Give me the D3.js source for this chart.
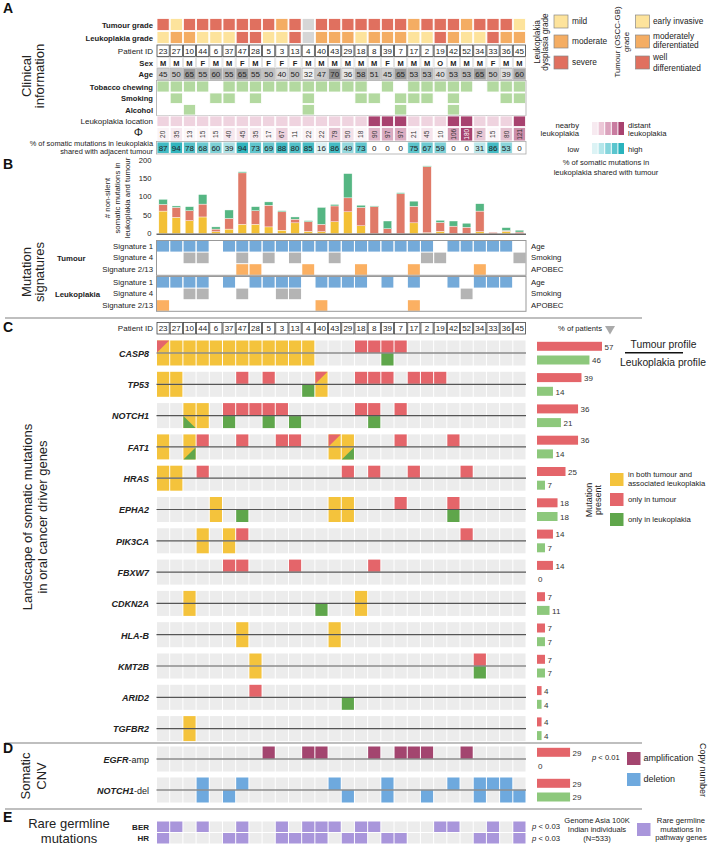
<!DOCTYPE html>
<html>
<head>
<meta charset="utf-8">
<script src="https://cdn.jsdelivr.net/npm/d3@7"></script>
<style>
    body { margin: 0; background: #fff; }
    svg { font-family: "Liberation Sans", Arial, sans-serif; }
</style>
</head>
<body>
<svg id="fig" width="709" height="858"></svg>
<script>
// ---------------- data ----------------
var patients = ["23","27","10","44","6","37","47","28","5","3","13","4","40","43","29","18","8","39","7","17","2","19","42","52","34","33","36","45"];

// grade codes: 0 = n/a, 1 = mild / early invasive, 2 = moderate, 3 = severe / well differentiated
var tumourGrade = [3,1,3,3,3,3,3,3,3,2,3,0,3,3,3,3,3,3,3,2,3,3,3,2,3,3,3,1];
var leukGrade   = [1,2,2,1,1,1,3,3,1,1,3,0,2,2,2,1,2,2,2,1,1,3,2,1,1,3,2,2];
var sex = ["M","M","M","F","M","M","F","M","F","F","F","M","M","M","M","M","M","F","M","M","M","O","M","M","M","F","M","M"];
var age = [45,50,65,55,60,55,65,55,50,40,50,32,47,70,36,58,51,45,65,53,53,40,53,53,65,50,39,60];
var tobacco = [1,1,1,1,0,1,1,1,1,1,1,1,1,1,1,1,0,1,0,1,1,1,1,1,0,1,1,1];
var smoking = [0,1,0,0,1,1,0,1,0,0,0,1,0,0,0,1,1,0,1,1,1,0,1,0,0,0,1,1];
var alcohol = [0,0,1,0,0,0,0,0,0,0,0,1,0,0,0,0,0,0,1,0,0,0,1,0,0,0,0,0];
var phi = [20,35,13,15,15,40,45,35,17,67,11,22,22,79,50,18,90,97,97,21,45,10,106,180,76,15,80,121];
var sharedPct = [87,94,78,68,60,39,94,73,69,88,80,85,16,86,49,73,0,0,0,75,67,59,0,0,31,86,53,0];

// non-silent somatic mutations (panel B)
var mutShared = [61,44,35,45,5,12,25,25,18,9,29,6,5,32,59,21,0,0,0,29,2,6,0,0,5,0,6,0];
var mutTumour = [18,27,27,35,7,29,140,37,59,50,10,26,20,43,38,50,73,13,108,45,180,24,20,17,56,3,2,4];
var mutLeuk   = [14,4,11,26,6,23,3,11,9,3,6,3,46,4,66,6,2,21,3,14,2,6,14,11,20,0,8,5];
var barTicks = [0,50,100,150,200];

// mutation signatures
var sigNames = ["Signature 1","Signature 4","Signature 2/13"];
var sigLabels = ["Age","Smoking","APOBEC"];
var sigTumour = [
    [1,1,1,1,0,1,1,1,1,1,1,1,1,1,1,1,1,1,1,1,1,0,1,1,1,1,1,0],
    [0,0,1,1,0,0,1,0,1,0,1,0,0,1,0,0,0,0,0,0,1,1,0,0,0,0,0,1],
    [0,0,0,0,0,0,1,1,0,0,0,1,0,0,0,1,0,0,0,1,0,0,0,0,1,0,0,0]
];
var sigLeuk = [
    [1,1,1,1,0,1,0,1,1,1,1,0,1,1,1,1,0,1,0,1,0,0,1,0,1,1,1,0],
    [0,0,1,1,0,0,1,0,0,1,1,0,0,0,0,0,0,0,0,0,0,0,0,1,0,0,0,0],
    [1,0,0,0,0,0,0,0,0,0,0,0,1,0,0,0,0,0,0,1,0,0,0,0,0,0,0,0]
];

// driver genes: Y both, R tumour only, G leukoplakia only,
// A red/yellow split, B yellow/green split, C green/yellow split
var genes = ["CASP8","TP53","NOTCH1","FAT1","HRAS","EPHA2","PIK3CA","FBXW7","CDKN2A","HLA-B","KMT2B","ARID2","TGFBR2"];
var geneTumour = [
    "AYYYYYYYYYYY...RRRR.........",
    "YY....R.R...A..RRR.RRR......",
    "..YY.RRRRR.....RR.R.........",
    "Y.YR..R..RR..AY...R...R.....",
    "YY.R..........R.R..R...R....",
    "....Y........YY...R...R.....",
    "...Y.YR................R....",
    ".....RR...R.....R...........",
    "..Y............Y............",
    "......Y......Y..............",
    ".......Y................R...",
    ".......R....................",
    "..Y........................."
];
var geneLeuk = [
    "YYYYYYYYYYYY.....G..........",
    "YY.........GY...............",
    "..CY.G..G.G.....G...........",
    "Y.B..........YB.............",
    "YY..........................",
    "....Y.G......YY.......G.....",
    "...Y.Y......................",
    "............................",
    "..Y.........G..Y............",
    "......Y......Y..............",
    ".......Y................G...",
    "..............G.............",
    "..Y........................."
];
var pctTumour = [57,39,36,36,25,18,14,14,7,7,7,4,4];
var pctLeuk   = [46,14,21,14,7,18,7,0,11,7,7,4,4];

// somatic CNV (M amplification, D deletion)
var cnvNames = ["EGFR","NOTCH1"];
var cnvSuffix = ["-amp","-del"];
var cnvTumour = ["........M..MM...M.MMM..M....", "...D..D......D...D....D.DDD."];
var cnvLeuk   = ["............................", "...D.D........D..D..D...D.DD"];
var cnvPctTumour = [29,29];
var cnvPctLeuk = [0,29];

// rare germline mutations
var germNames = ["BER","HR"];
var germBER = [0,1,3,6,9,11,12,13,15,16,21,22,25,27];
var germHR  = [0,5,6,9,10,11,12,14,15,17,18,24,25,27];
var germP = ["0.03","0.03"];

// ---------------- colours ----------------
var gradeColor = {0: "#d6d6d6", 1: "#fde39c", 2: "#f4ad63", 3: "#e0705f"};
var mutColor = {Y: "#f4c33c", R: "#e4656a", G: "#5fa64b", M: "#a3456f", D: "#6ea9de"};
var clinGreen = "#b3d9a0";
var bgGrey = "#ececec";

var svg = d3.select("#fig");
var x = d3.scaleBand().domain(d3.range(patients.length)).range([156.5, 526]);
var cw = x.bandwidth();
var labelX = 153;

function label(txt, xx, y, opts) {
    opts = opts || {};
    return svg.append("text")
        .attr("x", xx).attr("y", y)
        .attr("text-anchor", opts.anchor || "end")
        .attr("font-size", opts.size || 7.8)
        .attr("font-weight", opts.bold ? "bold" : "normal")
        .attr("font-style", opts.italic ? "italic" : "normal")
        .attr("fill", opts.fill || "#222")
        .text(txt);
}

function vLabel(lines, cx, cy, size, gap, rot) {
    rot = rot || -90;
    var g = svg.append("g").attr("transform", "translate(" + cx + "," + cy + ") rotate(" + rot + ")");
    lines.forEach(function (t, i) {
        g.append("text").attr("x", 0).attr("y", (i - (lines.length - 1) / 2) * gap + size * 0.35)
            .attr("text-anchor", "middle").attr("font-size", size).attr("fill", "#222").text(t);
    });
}

function cellRow(y, h, fillFn, stroke) {
    svg.append("g").selectAll("rect").data(patients).enter().append("rect")
        .attr("x", function (d, i) { return x(i) + 0.5; })
        .attr("y", y + 0.5)
        .attr("width", cw - 1).attr("height", h - 1)
        .attr("fill", function (d, i) { return fillFn(i); })
        .attr("stroke", stroke || "none").attr("stroke-width", 0.8);
}

function textRow(y, vals, opts) {
    opts = opts || {};
    svg.append("g").selectAll("text").data(vals).enter().append("text")
        .attr("x", function (d, i) { return x(i) + cw / 2; })
        .attr("y", y)
        .attr("text-anchor", "middle")
        .attr("font-size", opts.size || 8)
        .attr("font-weight", opts.bold ? "bold" : "normal")
        .attr("fill", "#222")
        .text(function (d) { return d; });
}

function panelLetter(t, y) {
    label(t, 3, y, {anchor: "start", size: 14, bold: true, fill: "#111"});
}

// ---------------- panel A : clinical information ----------------
panelLetter("A", 13);
vLabel(["Clinical", "information"], 33, 76, 13, 13.5);

cellRow(18, 13, function (i) { return gradeColor[tumourGrade[i]]; }, "#fff");
cellRow(31, 13, function (i) { return gradeColor[leukGrade[i]]; }, "#fff");
label("Tumour grade", labelX, 27.5, {bold: true, size: 7.7});
label("Leukoplakia grade", labelX, 40.5, {bold: true, size: 7.7});

cellRow(44.5, 12.5, function () { return "#fff"; }, "#444");
textRow(53.8, patients, {size: 8});
label("Patient ID", labelX, 53.8, {size: 8});

cellRow(57, 11, function () { return "#fff"; }, "#ddd");
textRow(65.5, sex, {size: 7.5, bold: true});
label("Sex", labelX, 65.5, {bold: true, size: 7.7});

var ageColor = d3.scaleLinear().domain([30, 70]).range(["#f6f6f6", "#8c8c8c"]);
cellRow(68, 12, function (i) { return ageColor(age[i]); }, "#bbb");
textRow(77, age, {size: 8});
label("Age", labelX, 77, {bold: true, size: 7.7});

cellRow(80.5, 12, function (i) { return tobacco[i] ? clinGreen : "#fff"; }, "#fff");
cellRow(92.5, 11.5, function (i) { return smoking[i] ? clinGreen : "#fff"; }, "#fff");
cellRow(104, 11.5, function (i) { return alcohol[i] ? clinGreen : "#fff"; }, "#fff");
svg.append("rect").attr("x", 156.5).attr("y", 80.5).attr("width", 526 - 156.5).attr("height", 35)
    .attr("fill", "none").attr("stroke", "#aaa").attr("stroke-width", 0.8);
label("Tobacco chewing", labelX, 89.5, {bold: true, size: 7.6});
label("Smoking", labelX, 101, {bold: true, size: 7.6});
label("Alcohol", labelX, 112.5, {bold: true, size: 7.6});

cellRow(115.5, 11.5, function (i) { return phi[i] >= 90 ? "#a8426f" : "#efd3df"; }, "#fff");
label("Leukoplakia location", labelX, 124, {size: 8});

var phiColor = d3.scaleLinear().domain([0, 60, 180]).range(["#ffffff", "#f1dbe5", "#a8426f"]);
cellRow(127, 14.5, function (i) { return phiColor(phi[i]); }, "#fff");
svg.append("g").selectAll("text").data(phi).enter().append("text")
    .attr("transform", function (d, i) { return "translate(" + (x(i) + cw / 2 + 2.3) + ",134.3) rotate(-90)"; })
    .attr("text-anchor", "middle").attr("font-size", 6.5)
    .attr("fill", function (d) { return d > 150 ? "#fff" : "#333"; })
    .text(function (d) { return d; });
label("\u03A6", 143, 136, {size: 11.5});

var tealColor = d3.scaleLinear().domain([0, 100]).range(["#ffffff", "#25b0ba"]);
cellRow(141.5, 12.5, function (i) { return tealColor(sharedPct[i]); }, "#fff");
svg.append("rect").attr("x", 156.5).attr("y", 141.5).attr("width", 526 - 156.5).attr("height", 12.5)
    .attr("fill", "none").attr("stroke", "#aaa").attr("stroke-width", 0.8);
textRow(150.8, sharedPct, {size: 8});
label("% of somatic mutations in leukoplakia", labelX, 145.6, {size: 7.4});
label("shared with adjacent tumour", labelX, 154.4, {size: 7.4});

// grade legends
vLabel(["Leukoplakia", "dysplasia grade"], 541, 42, 8.2, 8.5);
vLabel(["Tumour (OSCC-GB)", "grade"], 622, 42, 7.9, 9);
var gradeLegend = [1, 2, 3];
var lgY = [15, 35, 56];
gradeLegend.forEach(function (g, i) {
    svg.append("rect").attr("x", 554).attr("y", lgY[i]).attr("width", 14).attr("height", 13)
        .attr("fill", gradeColor[g]).attr("stroke", "#888").attr("stroke-width", 0.7);
    svg.append("rect").attr("x", 635.5).attr("y", lgY[i]).attr("width", 14).attr("height", 13)
        .attr("fill", gradeColor[g]).attr("stroke", "#888").attr("stroke-width", 0.7);
});
label("mild", 572, 24, {anchor: "start", size: 8.3});
label("moderate", 572, 44, {anchor: "start", size: 8.3});
label("severe", 572, 65, {anchor: "start", size: 8.3});
label("early invasive", 653, 24, {anchor: "start", size: 8.3});
label("moderately", 653, 39, {anchor: "start", size: 8.3});
label("diferentiated", 653, 48, {anchor: "start", size: 8.3});
label("well", 653, 60, {anchor: "start", size: 8.3});
label("differentiated", 653, 71, {anchor: "start", size: 8.3});

// phi and shared legends
var legSteps = [0, 1, 2, 3, 4];
var pinkSteps = ["#f7eaf0", "#ecc7d7", "#dba3bd", "#c97ca0", "#a8426f"];
var tealSteps = ["#dcf3f5", "#b4e6ea", "#86d5dc", "#5ac5ce", "#2ab3bd"];
legSteps.forEach(function (s) {
    svg.append("rect").attr("x", 592 + s * 6.6).attr("y", 122).attr("width", 5.6).attr("height", 13)
        .attr("fill", pinkSteps[s]);
    svg.append("rect").attr("x", 592 + s * 6.6).attr("y", 143).attr("width", 5.6).attr("height", 11)
        .attr("fill", tealSteps[s]);
});
label("nearby", 579, 127.5, {size: 7.7});
label("leukoplakia", 579, 136, {size: 7.7});
label("distant", 628, 127.5, {anchor: "start", size: 7.7});
label("leukoplakia", 628, 136, {anchor: "start", size: 7.7});
label("low", 579, 152, {size: 7.7});
label("high", 628, 152, {anchor: "start", size: 7.7});
label("% of somatic mutations in", 606, 165, {anchor: "middle", size: 7.6});
label("leukoplakia shared with tumour", 606, 175, {anchor: "middle", size: 7.6});

// ---------------- panel B : mutation counts and signatures ----------------
panelLetter("B", 168.5);
var yB = d3.scaleLinear().domain([0, 200]).range([233.5, 160]);
barTicks.forEach(function (t) {
    label(t, 151.5, yB(t) + 2.7, {size: 7.6});
});
vLabel(["# non-silent", "somatic mutations in", "leukoplakia and tumour"], 117.5, 198, 7.8, 10);

var barW = 8.5;
var stacks = patients.map(function (p, i) {
    return [
        {y0: 0, y1: mutShared[i], c: "#f3c035"},
        {y0: mutShared[i], y1: mutShared[i] + mutTumour[i], c: "#e07a68"},
        {y0: mutShared[i] + mutTumour[i], y1: mutShared[i] + mutTumour[i] + mutLeuk[i], c: "#55b683"}
    ];
});
svg.append("g").selectAll("g").data(stacks).enter().append("g")
    .each(function (d, i) {
        d3.select(this).selectAll("rect").data(d.filter(function (s) { return s.y1 > s.y0; }))
            .enter().append("rect")
            .attr("x", x(i) + (cw - barW) / 2)
            .attr("y", function (s) { return yB(s.y1); })
            .attr("width", barW)
            .attr("height", function (s) { return yB(s.y0) - yB(s.y1); })
            .attr("fill", function (s) { return s.c; })
            .attr("stroke", "#fff").attr("stroke-width", 0.4);
    });
svg.append("line").attr("x1", 156.5).attr("x2", 526).attr("y1", 234.3).attr("y2", 234.3)
    .attr("stroke", "#666").attr("stroke-width", 1.5);

var sigColor = ["#74aad9", "#b4b4b4", "#fbb062"];
function sigBlock(data, top, title, titleX) {
    var h = 11.6;
    data.forEach(function (row, r) {
        cellRow(top + r * h, h, function (i) { return row[i] ? sigColor[r] : "#fff"; }, "none");
        label(sigNames[r], labelX, top + r * h + 8.3, {size: 7.8});
        label(sigLabels[r], 531, top + r * h + 8.3, {anchor: "start", size: 7.8});
    });
    // white grid gaps between filled cells
    svg.append("g").selectAll("line").data(d3.range(1, patients.length)).enter().append("line")
        .attr("x1", function (i) { return x(i); }).attr("x2", function (i) { return x(i); })
        .attr("y1", top).attr("y2", top + 3 * h)
        .attr("stroke", "#fff").attr("stroke-width", 0.8);
    svg.append("rect").attr("x", 156.5).attr("y", top).attr("width", 526 - 156.5).attr("height", 3 * h)
        .attr("fill", "none").attr("stroke", "#999").attr("stroke-width", 1);
    label(title, titleX, top + h * 1.5 + 3, {anchor: "start", size: 7.8, bold: true});
}
sigBlock(sigTumour, 240.5, "Tumour", 57);
sigBlock(sigLeuk, 276.5, "Leukoplakia", 55);
vLabel(["Mutation", "signatures"], 33, 272, 13, 13.5);

// separators
function separator(y) {
    svg.append("line").attr("x1", 5).attr("x2", 642).attr("y1", y).attr("y2", y)
        .attr("stroke", "#aaa").attr("stroke-width", 1.5);
}
separator(318);
separator(743);
separator(809);

// ---------------- panel C : driver genes ----------------
panelLetter("C", 332);
cellRow(322, 12.5, function () { return "#fff"; }, "#444");
textRow(331.3, patients, {size: 8});
label("Patient ID", labelX, 331.3, {size: 8});

var pctX = d3.scaleLinear().domain([0, 57]).range([0, 65]);
var barX0 = 537;

function drawCell(g, code, cx, cy, w, h) {
    if (code === ".") {
        g.append("rect").attr("x", cx).attr("y", cy).attr("width", w).attr("height", h).attr("fill", bgGrey);
        return;
    }
    var base = (code === "A" || code === "B" || code === "C") ? mutColor.Y : mutColor[code];
    g.append("rect").attr("x", cx).attr("y", cy).attr("width", w).attr("height", h).attr("fill", base);
    var pts = null, c = null;
    if (code === "A") { pts = [[cx, cy], [cx + w, cy], [cx, cy + h]]; c = mutColor.R; }
    if (code === "B") { pts = [[cx + w, cy], [cx + w, cy + h], [cx, cy + h]]; c = mutColor.G; }
    if (code === "C") { pts = [[cx, cy], [cx, cy + h], [cx + w, cy + h]]; c = mutColor.G; }
    if (pts) g.append("polygon").attr("points", pts.map(function (p) { return p.join(","); }).join(" ")).attr("fill", c);
}

function profileRow(top, tRow, lRow, tPct, lPct) {
    var half = 13;
    var g = svg.append("g");
    patients.forEach(function (p, i) {
        drawCell(g, tRow[i], x(i) + 0.5, top + 0.5, cw - 1, half - 1);
        drawCell(g, lRow[i], x(i) + 0.5, top + half + 0.5, cw - 1, half - 1);
    });
    g.append("line").attr("x1", 156.5).attr("x2", 526).attr("y1", top + half).attr("y2", top + half)
        .attr("stroke", "#555").attr("stroke-width", 1.2);
    // % of patients bars
    g.append("rect").attr("x", barX0).attr("y", top + 1.8).attr("width", Math.max(pctX(tPct), 0)).attr("height", 9)
        .attr("fill", "#e4656a");
    g.append("text").attr("x", barX0 + pctX(tPct) + 2.5).attr("y", top + 9.5).attr("font-size", 8)
        .attr("fill", "#333").text(tPct);
    if (lPct > 0) {
        g.append("rect").attr("x", barX0).attr("y", top + 15.5).attr("width", pctX(lPct)).attr("height", 9)
            .attr("fill", "#8dc87c");
    }
    g.append("text").attr("x", barX0 + pctX(lPct) + (lPct > 0 ? 2.5 : 1)).attr("y", top + 23.2).attr("font-size", 8)
        .attr("fill", "#333").text(lPct);
}

var genePitch = 31.3;
genes.forEach(function (gname, k) {
    var top = 340 + k * genePitch;
    profileRow(top, geneTumour[k], geneLeuk[k], pctTumour[k], pctLeuk[k]);
    label(gname, 149, top + 16.8, {bold: true, italic: true, size: 9});
});
vLabel(["Landscape of somatic mutations", "in oral cancer driver genes"], 35, 517, 13, 15.5);

label("% of patients", 580, 331, {anchor: "middle", size: 7.6});
svg.append("polygon").attr("points", "605,326 615,326 610,334.5").attr("fill", "#aaa");
label("Tumour profile", 663.5, 348, {anchor: "middle", size: 10.3});
svg.append("line").attr("x1", 625).attr("x2", 683).attr("y1", 352.7).attr("y2", 352.7)
    .attr("stroke", "#111").attr("stroke-width", 1.5);
label("Leukoplakia profile", 663, 366, {anchor: "middle", size: 10.3});

// mutation legend
vLabel(["Mutation", "present"], 593.5, 500, 9, 9.5);
var mutLegend = [["Y", ["in both tumour and", "associated leukoplakia"], 473], ["R", ["only in tumour"], 493], ["G", ["only in leukoplakia"], 513]];
mutLegend.forEach(function (m) {
    svg.append("rect").attr("x", 610).attr("y", m[2]).attr("width", 13.5).attr("height", 13).attr("fill", mutColor[m[0]]);
    m[1].forEach(function (t, j) {
        label(t, 628, m[2] + (m[1].length > 1 ? 4 + j * 9 : 9), {anchor: "start", size: 7.7});
    });
});

// ---------------- panel D : somatic CNV ----------------
panelLetter("D", 753);
vLabel(["Somatic", "CNV"], 33.5, 776, 13, 16);
var cnvTop = [746, 777];
cnvNames.forEach(function (c, k) {
    profileRow(cnvTop[k], cnvTumour[k], cnvLeuk[k], cnvPctTumour[k], cnvPctLeuk[k]);
    var t = svg.append("text").attr("x", 149).attr("y", cnvTop[k] + 16.5).attr("text-anchor", "end")
        .attr("font-size", 9).attr("fill", "#222");
    t.append("tspan").attr("font-weight", "bold").attr("font-style", "italic").text(c);
    t.append("tspan").text(cnvSuffix[k]);
});
var pTxt = svg.append("text").attr("x", 592).attr("y", 760).attr("font-size", 7.6).attr("fill", "#222");
pTxt.append("tspan").attr("font-style", "italic").text("p");
pTxt.append("tspan").text(" < 0.01");
svg.append("rect").attr("x", 627).attr("y", 752).attr("width", 13.5).attr("height", 13).attr("fill", mutColor.M);
svg.append("rect").attr("x", 627).attr("y", 773).attr("width", 13.5).attr("height", 13).attr("fill", mutColor.D);
label("amplification", 643.5, 761, {anchor: "start", size: 9});
label("deletion", 643.5, 782, {anchor: "start", size: 9});
vLabel(["Copy number"], 703, 770, 9, 9, 90);

// ---------------- panel E : germline ----------------
panelLetter("E", 822);
label("Rare germline", 69, 828, {anchor: "middle", size: 13});
label("mutations", 69, 843, {anchor: "middle", size: 13});
var germRows = [germBER, germHR];
germRows.forEach(function (rows, k) {
    var y = 821 + k * 11.5;
    cellRow(y, 11.5, function (i) { return rows.indexOf(i) >= 0 ? "#a996db" : bgGrey; }, "none");
    label(germNames[k], 149, y + 8.7, {bold: true, size: 8});
    var pt = svg.append("text").attr("x", 532).attr("y", y + 8).attr("font-size", 7.7).attr("fill", "#222");
    pt.append("tspan").attr("font-style", "italic").text("p");
    pt.append("tspan").text(" < " + germP[k]);
});
label("Genome Asia 100K", 597, 822.5, {anchor: "middle", size: 7.6});
label("Indian individuals", 597, 831.5, {anchor: "middle", size: 7.6});
label("(N=533)", 597, 840.5, {anchor: "middle", size: 7.6});
svg.append("rect").attr("x", 637).attr("y", 823).attr("width", 13.5).attr("height", 13).attr("fill", "#a996db");
label("Rare germline", 681, 823, {anchor: "middle", size: 7.7});
label("mutations in", 681, 831.5, {anchor: "middle", size: 7.7});
label("pathway genes", 681, 840, {anchor: "middle", size: 7.7});
</script>
</body>
</html>
